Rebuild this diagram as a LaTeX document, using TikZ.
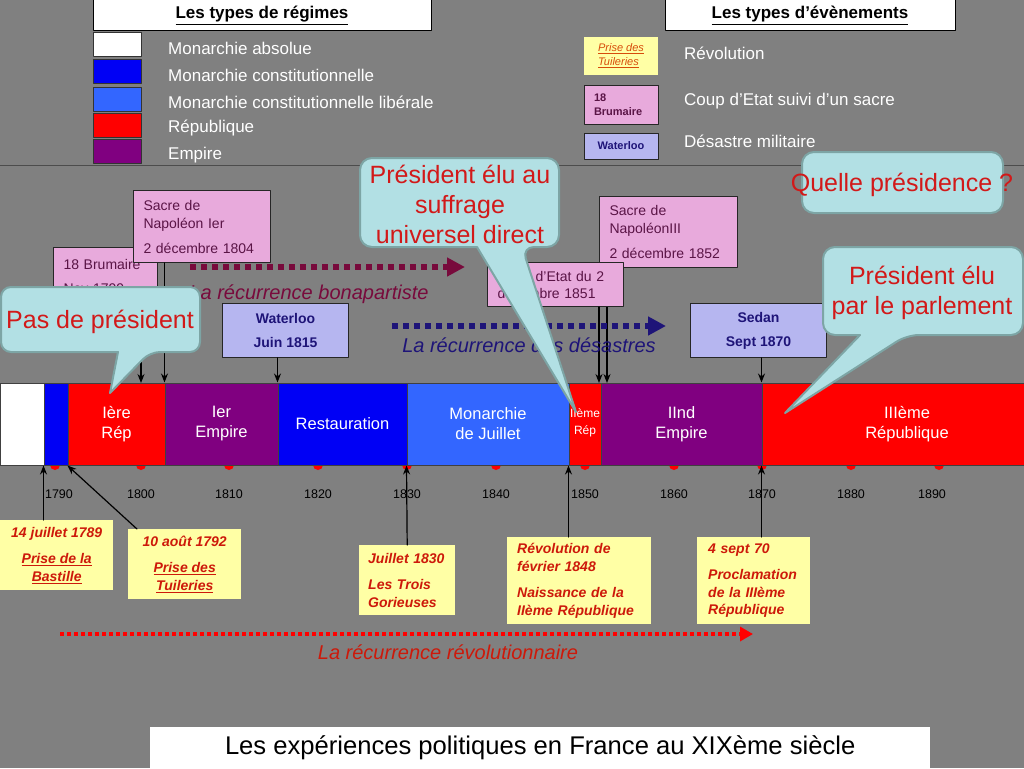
\documentclass[tikz,border=0pt]{standalone}
\usepackage{fontspec}
\setmainfont{Liberation Sans}
\usetikzlibrary{calc,arrows.meta}

\definecolor{fond}{RGB}{128,128,128}
\definecolor{regBleu}{RGB}{0,0,245}
\definecolor{regBleuClair}{RGB}{51,102,255}
\definecolor{regRouge}{RGB}{255,0,0}
\definecolor{regViolet}{RGB}{128,0,128}
\definecolor{rose}{RGB}{232,170,220}
\definecolor{prune}{RGB}{90,20,70}
\definecolor{lavande}{RGB}{182,182,240}
\definecolor{marine}{RGB}{30,20,120}
\definecolor{jaune}{RGB}{255,255,165}
\definecolor{rougeRev}{RGB}{205,25,10}
\definecolor{orangeRev}{RGB}{215,75,10}
\definecolor{bordeaux}{RGB}{120,10,60}
\definecolor{ciel}{RGB}{178,224,228}
\definecolor{cielBord}{RGB}{125,165,165}
\definecolor{rougeBulle}{RGB}{210,25,25}

\begin{document}
\begin{tikzpicture}[x=1pt, y=-1pt, >={Stealth[length=9pt,width=7pt]}, line join=round, line cap=round,
    regime/.style={draw=black!75, line width=1pt, minimum height=82, inner sep=0pt, text=white, align=center, font=\fontsize{16.5}{20}\selectfont},
    swatch/.style={draw=black!80, line width=1pt, minimum width=48, minimum height=24, inner sep=0pt},
    legtext/.style={anchor=west, text=white, inner sep=0pt, font=\fontsize{17}{20}\selectfont},
    legtitle/.style={draw=black, line width=1pt, fill=white, minimum width=338, minimum height=31, inner sep=0pt, font=\bfseries\fontsize{17}{20}\selectfont},
    sacrebox/.style={draw=black!85, line width=1pt, fill=rose, text=prune, align=left, inner xsep=10pt, inner ysep=0pt, anchor=north west, font=\fontsize{14}{18}\selectfont},
    defaite/.style={draw=black!85, line width=1pt, fill=lavande, text=marine, align=center, inner sep=0pt, anchor=north west, font=\bfseries\fontsize{14}{17}\selectfont},
    revbox/.style={fill=jaune, text=rougeRev, inner sep=0pt, anchor=north west, font=\bfseries\itshape\fontsize{14}{17.5}\selectfont},
    annee/.style={inner sep=0pt, font=\fontsize{12.5}{14}\selectfont},
    lien/.style={->, line width=1.2pt},
    recur/.style={line width=6pt, line cap=butt, dash pattern=on 6pt off 5pt, -{Triangle[length=18pt,width=18pt]}},
    recurtext/.style={inner sep=0pt, font=\itshape\fontsize{20}{23}\selectfont},
    bulle/.style={fill=ciel, draw=cielBord, line width=2pt},
    bulletext/.style={text=rougeBulle, align=center, inner sep=0pt, font=\fontsize{25}{30}\selectfont}]

    % 画布与分隔线
    \useasboundingbox (0,0) rectangle (1024,768);
    \clip (0,0) rectangle (1024,768);
    \fill[fond] (0,0) rectangle (1024,768);
    \draw[black!70, line width=1pt] (0,165) -- (1024,165);

    % 政体图例
    \node[legtitle] (titreReg) at (262,15.5) {\underline{Les types de régimes}};
    \node[swatch, fill=white] (cAbs) at (117,45) {};
    \node[swatch, fill=regBleu] (cMc) at (117,71) {};
    \node[swatch, fill=regBleuClair] (cMcl) at (117,99) {};
    \node[swatch, fill=regRouge] (cRep) at (117,125) {};
    \node[swatch, fill=regViolet] (cEmp) at (117,151) {};
    \node[legtext] (lAbs) at (168,48) {Monarchie absolue};
    \node[legtext] (lMc) at (168,75) {Monarchie constitutionnelle};
    \node[legtext] (lMcl) at (168,102) {Monarchie constitutionnelle libérale};
    \node[legtext] (lRep) at (168,128) {République};
    \node[legtext] (lEmp) at (168,155) {Empire};

    % 事件图例
    \node[legtitle, minimum width=290] (titreEv) at (810,15.5) {\underline{Les types d’évènements}};
    \node[fill=jaune, minimum width=74, minimum height=38, inner sep=0pt, text=orangeRev, align=left, font=\itshape\fontsize{11}{14}\selectfont] (evRev) at (621,56) {\underline{Prise des}\\\underline{Tuileries}};
    \node[sacrebox, anchor=center, text width=54, minimum height=39, font=\bfseries\fontsize{11}{14}\selectfont] (evCoup) at (621,104.5) {18\\Brumaire};
    \node[defaite, anchor=center, minimum width=74, minimum height=26, font=\bfseries\fontsize{11}{14}\selectfont] (evDes) at (621,146) {Waterloo};
    \node[legtext] (lRev) at (684,53) {Révolution};
    \node[legtext] (lCoup) at (684,101) {Coup d’Etat suivi d’un sacre};
    \node[legtext] (lDes) at (684,141) {Désastre militaire};

    % 年份红点 (在时间轴下面)
    \fill[regRouge] (55,465) circle (5) (141,465) circle (5) (229,465) circle (5) (318,465) circle (5)
        (407,465) circle (5) (496,465) circle (5) (585,465) circle (5) (674,465) circle (5)
        (762,465) circle (5) (851,465) circle (5) (939,465) circle (5);

    % 时间轴: 各政体
    \node[regime, fill=white, minimum width=44] (abs) at (22,424) {};
    \node[regime, fill=regBleu, minimum width=24] (mc) at (56,424) {};
    \node[regime, fill=regRouge, minimum width=97] (rep1) at (116.5,424) {Ière\\Rép};
    \node[regime, fill=regViolet, minimum width=113] (emp1) at (221.5,424) {Ier\\Empire};
    \node[regime, fill=regBleu, minimum width=129] (rest) at (342.5,424) {Restauration};
    \node[regime, fill=regBleuClair, minimum width=162] (juil) at (488,424) {Monarchie\\de Juillet};
    \node[regime, fill=regRouge, minimum width=32] (rep2) at (585,424) {};
    \node[regime, fill=regViolet, minimum width=161] (emp2) at (681.5,424) {IInd\\Empire};
    \node[regime, fill=regRouge, minimum width=290] (rep3) at (907,424) {IIIème\\République};
    \node[text=white, align=center, inner sep=0pt, font=\fontsize{12}{17}\selectfont] (rep2t) at (585,423) {IIème\\Rép};

    % 年份刻度
    \node[annee] (a1790) at (59,494) {1790};
    \node[annee] (a1800) at (141,494) {1800};
    \node[annee] (a1810) at (229,494) {1810};
    \node[annee] (a1820) at (318,494) {1820};
    \node[annee] (a1830) at (407,494) {1830};
    \node[annee] (a1840) at (496,494) {1840};
    \node[annee] (a1850) at (585,494) {1850};
    \node[annee] (a1860) at (674,494) {1860};
    \node[annee] (a1870) at (762,494) {1870};
    \node[annee] (a1880) at (851,494) {1880};
    \node[annee] (a1890) at (932,494) {1890};

    % 上方: 政变与加冕, 军事失败
    \coordinate (t1799) at (141,383);
    \coordinate (t1851) at (599,383);
    \coordinate (t1852) at (607,383);
    \node[sacrebox, text width=84, minimum height=58] (brum) at (53,247) {18 Brumaire\\[6pt]Nov 1799};
    \node[sacrebox, text width=117, minimum height=72] (sacre1) at (133,190) {Sacre de\\Napoléon Ier\\[7pt]2 décembre 1804};
    \node[defaite, minimum width=126, minimum height=54] (water) at (222,303) {Waterloo\\[7pt]Juin 1815};
    \node[sacrebox, text width=118, minimum height=71] (sacre3) at (599,196) {Sacre de\\NapoléonIII\\[7pt]2 décembre 1852};
    \node[defaite, minimum width=136, minimum height=54] (sedan) at (690,303) {Sedan\\[7pt]Sept 1870};
    \draw[lien] (t1799 |- brum.south) -- (t1799);
    \draw[lien] (emp1.north west |- sacre1.south) -- (emp1.north west);
    \draw[lien] (rest.north west |- water.south) -- (rest.north west);
    \draw[lien] (t1852 |- sacre3.south) -- (t1852);
    \draw[lien] (rep3.north west |- sedan.south) -- (rep3.north west);
    \node[sacrebox, text width=116, minimum height=44, font=\fontsize{14}{17}\selectfont] (coup) at (487,262) {Coup d’Etat du 2\\décembre 1851};
    \draw[lien] (t1851 |- coup.south) -- (t1851);

    % 三条 "récurrence" 虚线箭头
    \coordinate (bonaA) at (190,267);
    \coordinate (bonaB) at (465,267);
    \draw[recur, bordeaux] (bonaA) -- (bonaB);
    \node[recurtext, text=bordeaux] (bonaT) at (309,294) {La récurrence bonapartiste};
    \coordinate (desA) at (392,326);
    \coordinate (desB) at (666,326);
    \draw[recur, marine] (desA) -- (desB);
    \node[recurtext, text=marine] (desT) at (529,345) {La récurrence des désastres};
    \coordinate (revA) at (60,634);
    \coordinate (revB) at (753,634);
    \draw[recur, regRouge, line width=4pt, dash pattern=on 4pt off 3pt, -{Triangle[length=13pt,width=14pt]}] (revA) -- (revB);
    \node[recurtext, text=rougeRev] (revT) at (448,652) {La récurrence révolutionnaire};

    % 下方: 革命
    \node[revbox, minimum width=113, minimum height=70, align=center] (bast) at (0,520) {14 juillet 1789\\[9pt]\underline{Prise de la}\\\underline{Bastille}};
    \node[revbox, minimum width=113, minimum height=70, align=center] (tuil) at (128,529) {10 août 1792\\[9pt]\underline{Prise des}\\\underline{Tuileries}};
    \node[revbox, inner xsep=9pt, text width=78, minimum height=70, align=left] (trois) at (359,545) {Juillet 1830\\[9pt]Les Trois\\Gorieuses};
    \node[revbox, inner xsep=10pt, text width=124, minimum height=87, align=left] (fev) at (507,537) {Révolution de\\février 1848\\[9pt]Naissance de la\\IIème République};
    \node[revbox, inner xsep=11pt, text width=91, minimum height=87, align=left] (sept) at (697,537) {4 sept 70\\[9pt]Proclamation\\de la IIIème\\République};
    \draw[lien] (mc.south west |- bast.north) -- (mc.south west);
    \draw[lien] ($(tuil.north west)+(9,0)$) -- (rep1.south west);
    \draw[lien] (trois.north) -- (juil.south west);
    \draw[lien] (rep2.south west |- fev.north) -- (rep2.south west);
    \draw[lien] (rep3.south west |- sept.north) -- (rep3.south west);

    % 对话气泡
    \draw[bulle] (100,287) [rounded corners=10] -- (200,287) -- (200,352) -- (150,352) [sharp corners] -- (110,393) -- (118,352) [rounded corners=10] -- (1,352) -- (1,287) -- cycle;
    \node[bulletext] (pasPres) at (100,322) {Pas de président};
    \draw[bulle] (460,158) [rounded corners=12] -- (559,158) -- (559,247) -- (522,247) [sharp corners] -- (576,412) -- (477,247) [rounded corners=12] -- (360,247) -- (360,158) -- cycle;
    \node[bulletext] (suffrage) at (460,204) {Président élu au\\suffrage\\universel direct};
    \draw[bulle, rounded corners=12] (802,152) rectangle (1003,213);
    \node[bulletext] (quelle) at (902,185) {Quelle présidence ?};
    \draw[bulle] (920,247) [rounded corners=12] -- (1023,247) -- (1023,335) -- (907,335) [sharp corners] -- (785,413) -- (860,335) [rounded corners=12] -- (823,335) -- (823,247) -- cycle;
    \node[bulletext] (parlement) at (922,293) {Président élu\\par le parlement};

    % 标题
    \node[fill=white, anchor=north west, minimum width=780, minimum height=42, inner sep=0pt, font=\fontsize{25.6}{28}\selectfont] (titre) at (150,727) {Les expériences politiques en France au XIXème siècle};
\end{tikzpicture}
\end{document}
